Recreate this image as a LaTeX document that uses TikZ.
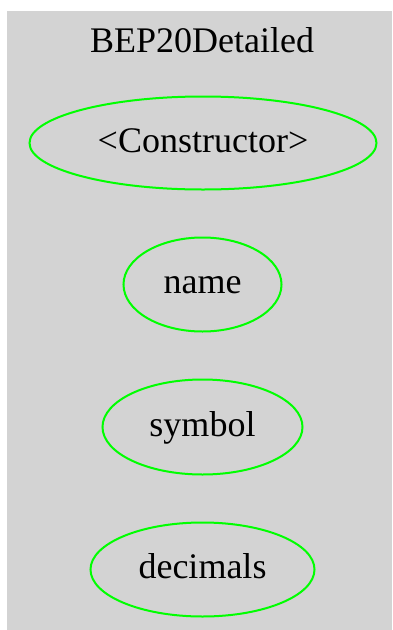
\documentclass[tikz,border=0pt]{standalone}
\usepackage{fontspec}
\setmainfont{Liberation Serif}
\usetikzlibrary{shapes.geometric}
\definecolor{clustergray}{RGB}{211,211,211}
\tikzset{
    % Le fond gris du cluster
    cluster/.style={
        fill=clustergray,
        draw=none
    },
    % Le style des fonctions du contrat
    contract_function/.style={
        ellipse,
        draw=green,
        line width=2pt,
        inner sep=0pt,
        text height=25pt,
        text depth=7pt,
        font=\fontsize{36}{40}\selectfont
    }
}

\begin{document}
\begin{tikzpicture}[x=1pt,y=-1pt]

    % --- 1. Cadre et fond ---
    \useasboundingbox (0,0) rectangle (392,630);
    \fill[cluster] (7,11) rectangle (392,630);

    % --- 2. Titre du cluster ---
    \node[contract_function, draw=none] (title) at (202,43) {BEP20Detailed};

    % --- 3. Les fonctions ---
    \node[contract_function, minimum width=347pt, minimum height=93pt] (constructor) at (203,143) {<Constructor>};
    \node[contract_function, minimum width=158pt, minimum height=94pt] (name) at (202.5,284.5) {name};
    \node[contract_function, minimum width=200pt, minimum height=95pt] (symbol) at (202.5,427) {symbol};
    \node[contract_function, minimum width=224pt, minimum height=94pt] (decimals) at (202.5,569.5) {decimals};

\end{tikzpicture}
\end{document}
